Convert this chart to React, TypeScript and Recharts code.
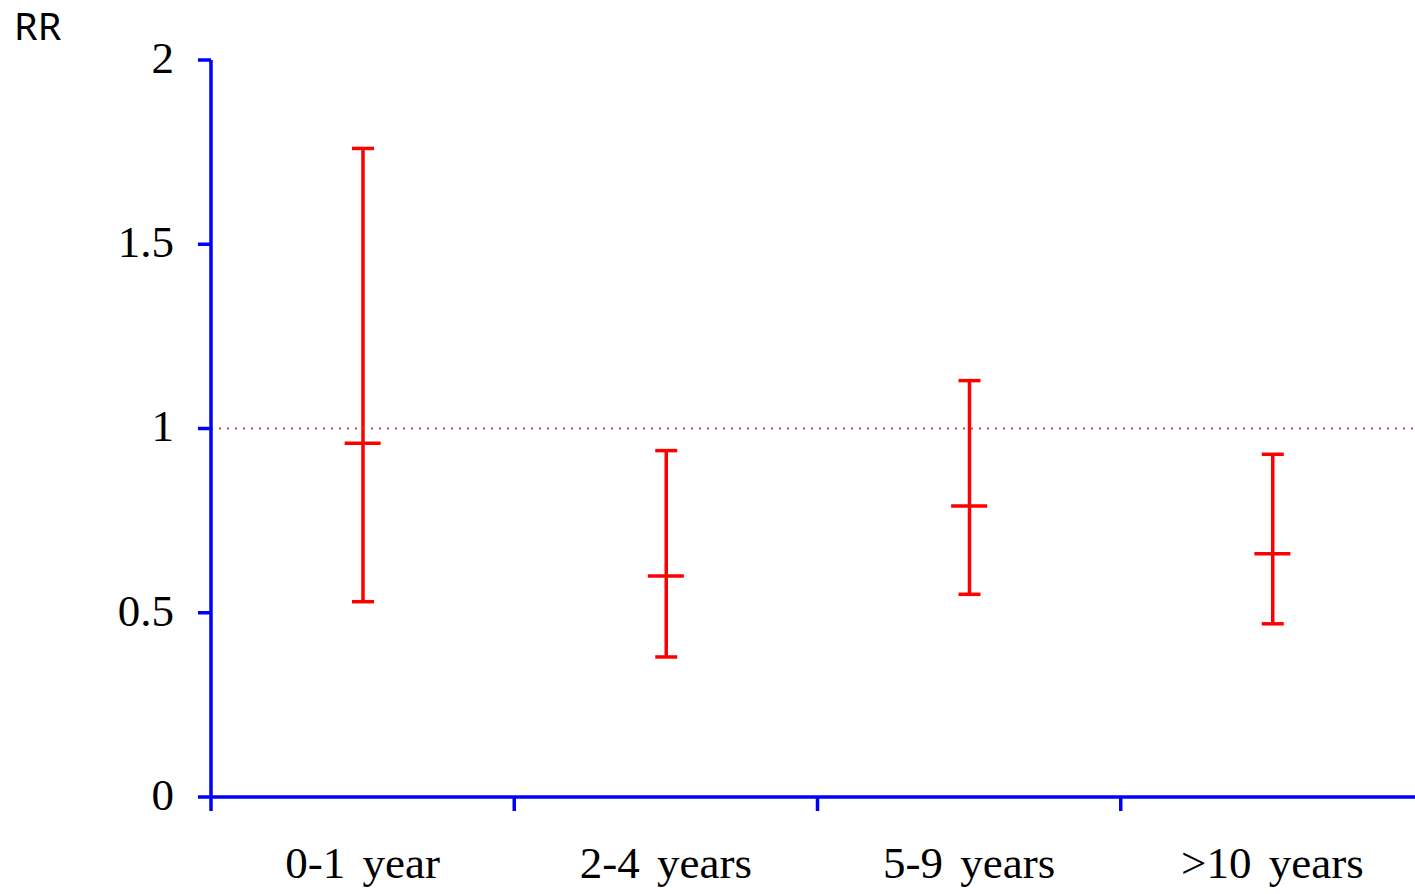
import { Bar, ComposedChart, Line, ReferenceLine, XAxis, YAxis } from "recharts"

// values
const groups = ["0-1 year", "2-4 years", "5-9 years", ">10 years"]
const rr = [0.96, 0.6, 0.79, 0.66]
const lower = [0.53, 0.38, 0.55, 0.47]
const upper = [1.76, 0.94, 1.13, 0.93]
const yTicks = [0, 0.5, 1, 1.5, 2]
const bandEdges = [0, 1, 2, 3, 4]

const data = groups.map((g, i) => ({ group: g, rr: rr[i], range: [lower[i], upper[i]] }))

const BLUE = "#0000ff"
const RED = "#ff0000"
const serif = "'Liberation Serif', 'Times New Roman', serif"

const Whisker = (props: any) => {
  const { x, y, width, height } = props
  const cx = x + width / 2
  const cap = 11
  return (
    <g stroke={RED} strokeWidth={3.5}>
      <line x1={cx} x2={cx} y1={y} y2={y + height} />
      <line x1={cx - cap} x2={cx + cap} y1={y} y2={y} />
      <line x1={cx - cap} x2={cx + cap} y1={y + height} y2={y + height} />
    </g>
  )
}

const PointMark = (props: any) => {
  const { cx, cy } = props
  if (cx == null || cy == null) return null
  return <line x1={cx - 18} x2={cx + 18} y1={cy} y2={cy} stroke={RED} strokeWidth={3.5} />
}

export default function App() {
  return (
    <div
      style={{
        position: "absolute",
        left: 0,
        top: 0,
        width: 1415,
        height: 894,
        overflow: "hidden",
        background: "#fff",
      }}
    >
      <div
        style={{
          position: "absolute",
          left: 14,
          top: -1,
          fontFamily: "'Noto Sans', 'Open Sans', sans-serif",
          fontSize: 38,
          color: "#000",
        }}
      >
        RR
      </div>
      <ComposedChart width={1424} height={894} data={data} margin={{ top: 60, right: 0, bottom: 0, left: 0 }}>
        <XAxis
          xAxisId="a"
          type="number"
          scale="linear"
          dataKey="rr"
          domain={[0, 4]}
          ticks={bandEdges}
          allowDataOverflow
          height={1}
          tickSize={14}
          tickFormatter={() => ""}
          axisLine={{ stroke: BLUE, strokeWidth: 3.5 }}
          tickLine={{ stroke: BLUE, strokeWidth: 3.5 }}
        />
        <XAxis
          xAxisId="b"
          dataKey="group"
          type="category"
          height={96}
          axisLine={false}
          tickLine={false}
          tickSize={0}
          tickMargin={48}
          tick={{ fill: "#000", fontSize: 45, fontFamily: serif, wordSpacing: 6 }}
        />
        <YAxis
          domain={[0, 2]}
          ticks={yTicks}
          width={211}
          tickSize={13}
          tickMargin={24}
          axisLine={{ stroke: BLUE, strokeWidth: 3.5 }}
          tickLine={{ stroke: BLUE, strokeWidth: 3.5 }}
          tick={{ fill: "#000", fontSize: 45, fontFamily: serif, dy: -3 }}
        />
        <ReferenceLine xAxisId="b" y={1} stroke="#c0504d" strokeWidth={2} strokeDasharray="2 6" />
        <Bar xAxisId="b" dataKey="range" barSize={22} shape={<Whisker />} isAnimationActive={false} />
        <Line
          xAxisId="b"
          dataKey="rr"
          stroke="none"
          dot={<PointMark />}
          activeDot={false}
          isAnimationActive={false}
        />
      </ComposedChart>
    </div>
  )
}
